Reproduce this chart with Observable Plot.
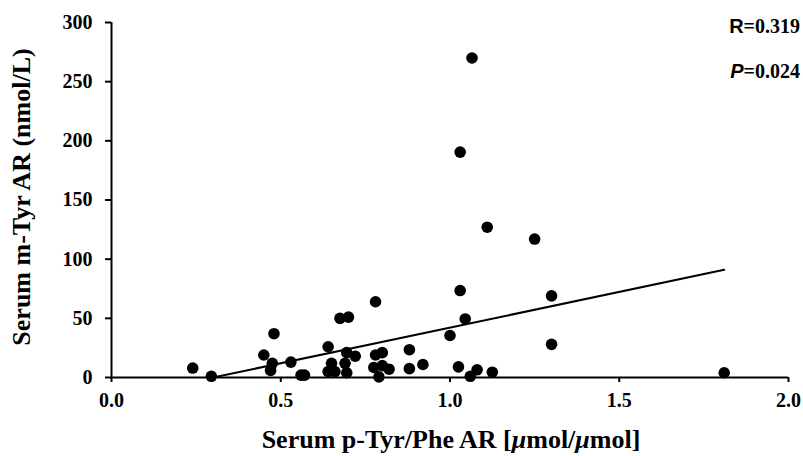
<!DOCTYPE html>
<html>
<head>
<meta charset="utf-8">
<script src="https://cdn.jsdelivr.net/npm/d3@7"></script>
<script src="https://cdn.jsdelivr.net/npm/@observablehq/plot@0.6"></script>
<style>
  html, body { margin: 0; padding: 0; background: #fff; }
  #wrap { position: relative; width: 803px; height: 456px; }
  .lab { position: absolute; font-family: "Liberation Serif", "Times New Roman", serif; font-weight: bold; color: #000; white-space: nowrap; }
</style>
</head>
<body>
<div id="wrap"></div>
<script>
// p-Tyr/Phe AR (x) and m-Tyr AR (y)
const pTyrPhe = [0.24, 0.295, 0.45, 0.48, 0.475, 0.47, 0.53, 0.56, 0.57, 0.64, 0.65, 0.64, 0.66,
  0.675, 0.70, 0.695, 0.72, 0.69, 0.695, 0.78, 0.78, 0.80, 0.775, 0.80, 0.82, 0.79,
  0.88, 0.88, 0.92, 1.00, 1.03, 1.045, 1.025, 1.08, 1.06, 1.125, 1.30, 1.30,
  1.065, 1.03, 1.11, 1.25, 1.81];
const mTyr = [8, 1, 19, 37, 12, 6, 13, 2, 2, 26, 12, 5, 5,
  50, 51, 21, 18, 12, 4, 64, 19, 21, 8.5, 10, 7, 0.5,
  23.5, 7.5, 11, 35.5, 73.5, 49.5, 9, 6.5, 1, 4.5, 69, 28,
  270, 190.5, 127, 117, 4];
// regression line end points
const fitX = [0.30, 1.81];
const fitY = [0, 91];
const xTicks = [0, 0.5, 1.0, 1.5, 2.0];
const yTicks = [0, 50, 100, 150, 200, 250, 300];
const xLabel = ["Serum p-Tyr/Phe AR [", "μ", "mol/", "μ", "mol]"];
const yLabel = "Serum m-Tyr AR (nmol/L)";
const rText = "R=0.319";
const pText = "P=0.024";

const points = pTyrPhe.map((x, i) => ({x, y: mTyr[i]}));
const fit = fitX.map((x, i) => ({x, y: fitY[i]}));

const chart = Plot.plot({
  width: 803, height: 456,
  marginLeft: 111, marginRight: 15, marginTop: 22, marginBottom: 79,
  x: {domain: [0, 2]},
  y: {domain: [0, 300]},
  style: {fontFamily: "'Liberation Serif', 'Times New Roman', serif", fontWeight: "bold", fontSize: "20px", color: "#000", background: "#fff", overflow: "visible"},
  marks: [
    Plot.axisX({ticks: xTicks, tickFormat: d => d.toFixed(1), tickSize: 5, tickPadding: 10, label: null, strokeWidth: 2}),
    Plot.axisY({ticks: yTicks, tickSize: 6, tickPadding: 13, label: null, strokeWidth: 2}),
    Plot.ruleY([0], {strokeWidth: 2}),
    Plot.ruleX([0], {strokeWidth: 2}),
    Plot.line(fit, {x: "x", y: "y", stroke: "#000", strokeWidth: 2}),
    Plot.dot(points, {x: "x", y: "y", r: 5.8, fill: "#000", stroke: "none"})
  ]
});
const wrap = document.getElementById("wrap");
wrap.appendChild(chart);

function add(html, css) {
  const d = document.createElement("div");
  d.className = "lab";
  d.innerHTML = html;
  Object.assign(d.style, css);
  wrap.appendChild(d);
  return d;
}
// x label
add(xLabel.map((s, i) => (s === "μ" ? `<i>${s}</i>` : s)).join(""),
  {left: "451px", top: "440px", fontSize: "26px", transform: "translate(-50%,-50%)"});
// y label
add(yLabel, {left: "22px", top: "197px", fontSize: "26px", transform: "translate(-50%,-50%) rotate(-90deg)"});
// R and P
add(`<span style="font-family:'Liberation Sans',Arial,sans-serif">${rText[0]}</span>${rText.slice(1)}`,
  {right: "3px", top: "26px", fontSize: "20px", transform: "translateY(-50%)"});
add(`<span style="font-family:'Liberation Sans',Arial,sans-serif;font-style:italic">${pText[0]}</span>${pText.slice(1)}`,
  {right: "3px", top: "71px", fontSize: "20px", transform: "translateY(-50%)"});
</script>
</body>
</html>
